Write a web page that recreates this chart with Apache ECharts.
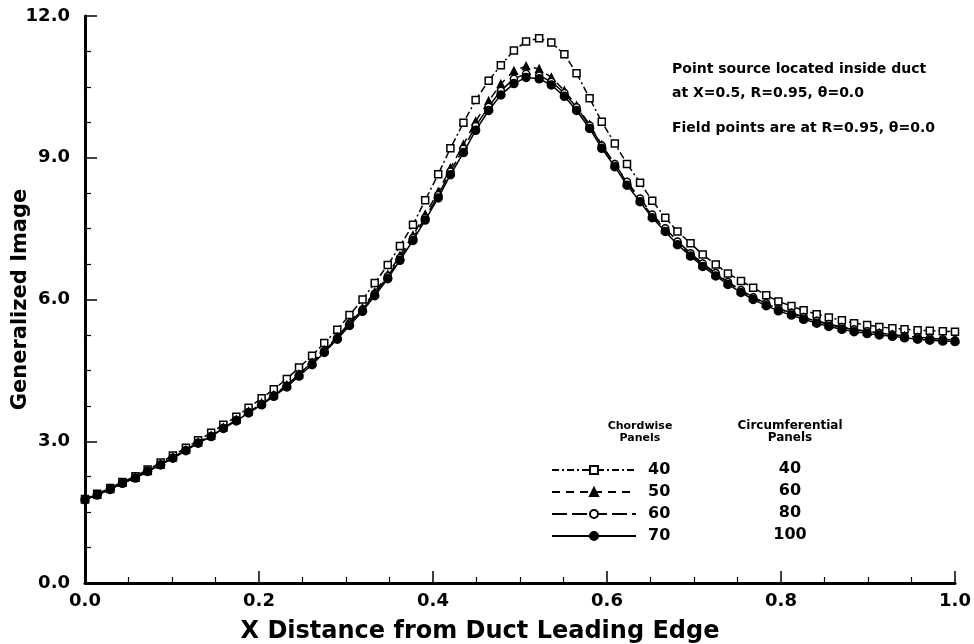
<!DOCTYPE html>
<html>
<head>
<meta charset="utf-8">
<script src="https://cdn.jsdelivr.net/npm/echarts@6/dist/echarts.min.js"></script>
<style>
html,body{margin:0;padding:0;background:#fff;}
#chart{width:974px;height:644px;}
</style>
</head>
<body>
<div id="chart"></div>
<script>
// Field point X locations (shared by all runs)
var xPoints = [0.000,0.014,0.029,0.043,0.058,0.072,0.087,0.101,0.116,0.130,
  0.145,0.159,0.174,0.188,0.203,0.217,0.232,0.246,0.261,0.275,
  0.290,0.304,0.319,0.333,0.348,0.362,0.377,0.391,0.406,0.420,
  0.435,0.449,0.464,0.478,0.493,0.507,0.522,0.536,0.551,0.565,
  0.580,0.594,0.609,0.623,0.638,0.652,0.667,0.681,0.696,0.710,
  0.725,0.739,0.754,0.768,0.783,0.797,0.812,0.826,0.841,0.855,
  0.870,0.884,0.899,0.913,0.928,0.942,0.957,0.971,0.986,1.000];

// 40 chordwise x 40 circumferential panels
var run40 = [1.78,1.89,2.01,2.14,2.26,2.40,2.55,2.70,2.86,3.02,
  3.18,3.35,3.52,3.71,3.91,4.10,4.32,4.56,4.81,5.08,
  5.36,5.67,6.00,6.35,6.73,7.13,7.58,8.10,8.65,9.20,
  9.74,10.22,10.63,10.96,11.27,11.46,11.53,11.44,11.19,10.79,
  10.26,9.76,9.30,8.87,8.47,8.09,7.73,7.44,7.19,6.95,
  6.74,6.55,6.39,6.25,6.09,5.96,5.86,5.77,5.69,5.62,
  5.56,5.50,5.46,5.42,5.39,5.37,5.35,5.34,5.33,5.32];

// 50 chordwise x 60 circumferential panels
var run50 = [1.77,1.87,1.99,2.12,2.23,2.37,2.51,2.66,2.82,2.98,
  3.12,3.29,3.46,3.63,3.81,3.98,4.19,4.42,4.67,4.93,
  5.21,5.51,5.82,6.16,6.53,6.93,7.36,7.80,8.28,8.78,
  9.28,9.77,10.20,10.56,10.84,10.94,10.88,10.70,10.42,10.10,
  9.70,9.27,8.86,8.47,8.11,7.77,7.48,7.20,6.96,6.74,
  6.54,6.36,6.19,6.04,5.91,5.80,5.71,5.62,5.54,5.47,
  5.41,5.36,5.32,5.29,5.26,5.23,5.20,5.18,5.16,5.15];

// 60 chordwise x 80 circumferential panels
var run60 = [1.77,1.87,1.99,2.12,2.23,2.37,2.51,2.65,2.81,2.97,
  3.11,3.28,3.45,3.62,3.79,3.97,4.17,4.40,4.65,4.91,
  5.19,5.49,5.79,6.12,6.49,6.88,7.30,7.73,8.21,8.71,
  9.19,9.67,10.08,10.42,10.67,10.78,10.74,10.61,10.37,10.07,
  9.68,9.26,8.87,8.49,8.14,7.80,7.51,7.23,6.98,6.76,
  6.56,6.37,6.20,6.05,5.92,5.81,5.72,5.63,5.55,5.48,
  5.42,5.37,5.33,5.29,5.26,5.23,5.20,5.18,5.16,5.14];

// 70 chordwise x 100 circumferential panels
var run70 = [1.76,1.86,1.98,2.11,2.22,2.36,2.50,2.64,2.80,2.96,
  3.10,3.27,3.43,3.60,3.77,3.95,4.15,4.38,4.62,4.88,
  5.16,5.45,5.75,6.08,6.44,6.83,7.25,7.68,8.15,8.64,
  9.11,9.58,10.00,10.33,10.57,10.70,10.67,10.54,10.30,10.00,
  9.62,9.20,8.81,8.42,8.07,7.73,7.44,7.16,6.92,6.70,
  6.50,6.32,6.15,6.00,5.87,5.76,5.67,5.58,5.50,5.43,
  5.37,5.32,5.28,5.25,5.22,5.19,5.16,5.14,5.12,5.11];

var chordwise = ['40','50','60','70'];
var circumferential = ['40','60','80','100'];
var annotation = ['Point source located inside duct', 'at X=0.5, R=0.95, \u03b8=0.0', 'Field points are at R=0.95, \u03b8=0.0'];
var xTitle = 'X Distance from Duct Leading Edge';
var yTitle = 'Generalized Image';

function pairs(ys){ return xPoints.map(function(x,i){ return [x, ys[i]]; }); }

var FONT = '"DejaVu Sans", "Liberation Sans", Arial, sans-serif';
var chart = echarts.init(document.getElementById('chart'));

var styles = [
  {data: run40, symbol: 'rect', size: 7, dash: [7,3,2,3], fill: '#fff'},
  {data: run50, symbol: 'triangle', size: 7, dash: [8,6], fill: '#000'},
  {data: run60, symbol: 'circle', size: 7, dash: [15,5], fill: '#fff'},
  {data: run70, symbol: 'circle', size: 8, dash: 'solid', fill: '#000'}
];

var series = styles.map(function(s, k){
  return {
    name: chordwise[k],
    type: 'line',
    data: pairs(s.data),
    symbol: s.symbol,
    symbolSize: s.size,
    showAllSymbol: true,
    animation: false,
    lineStyle: {color: '#000', width: 1.5, type: s.dash},
    itemStyle: {color: s.fill, borderColor: '#000', borderWidth: 1.5},
    z: 2 + k
  };
});

var graphics = [];
annotation.forEach(function(t, i){
  graphics.push({type:'text', x: 672, y: [69, 93, 128][i],
    style:{text: t, font: 'bold 14px ' + FONT, fill:'#000', textVerticalAlign:'middle'}});
});
graphics.push({type:'text', x: 640, y: 420, style:{text:'Chordwise\nPanels', font:'bold 11px ' + FONT, fill:'#000', textAlign:'center', lineHeight: 12}});
graphics.push({type:'text', x: 790, y: 420, style:{text:'Circumferential\nPanels', font:'bold 12px ' + FONT, fill:'#000', textAlign:'center', lineHeight: 12}});
circumferential.forEach(function(t, i){
  graphics.push({type:'text', x: 790, y: 469 + 22*i, style:{text: t, font:'bold 16px ' + FONT, fill:'#000', textAlign:'center', textVerticalAlign:'middle'}});
});

chart.setOption({
  backgroundColor: '#fff',
  animation: false,
  grid: {left: 85, right: 19, top: 16, bottom: 61, containLabel: false, outerBoundsMode: 'none'},
  xAxis: {
    type: 'value', min: 0, max: 1, interval: 0.2,
    name: xTitle, nameLocation: 'middle', nameGap: 37, nameMoveOverlap: false,
    nameTextStyle: {fontFamily: FONT, fontWeight: 'bold', fontSize: 24, color: '#000', padding: [0, 80, 0, 0]},
    axisLine: {lineStyle: {color: '#000', width: 3}},
    axisTick: {inside: true, length: 12, lineStyle: {color: '#000', width: 1.5}},
    minorTick: {show: true, splitNumber: 4, length: 6, lineStyle: {color: '#000', width: 1.2}},
    splitLine: {show: false},
    axisLabel: {fontFamily: FONT, fontWeight: 'bold', fontSize: 18, color: '#000', margin: 9,
      formatter: function(v){ return v.toFixed(1); }}
  },
  yAxis: {
    type: 'value', min: 0, max: 12, interval: 3,
    name: yTitle, nameLocation: 'middle', nameGap: 54, nameRotate: 90, nameMoveOverlap: false,
    nameTextStyle: {fontFamily: FONT, fontWeight: 'bold', fontSize: 21, color: '#000'},
    axisLine: {lineStyle: {color: '#000', width: 3}},
    axisTick: {inside: true, length: 12, lineStyle: {color: '#000', width: 1.5}},
    minorTick: {show: true, splitNumber: 4, length: 6, lineStyle: {color: '#000', width: 1.2}},
    splitLine: {show: false},
    axisLabel: {fontFamily: FONT, fontWeight: 'bold', fontSize: 18, color: '#000', margin: 15,
      formatter: function(v){ return v.toFixed(1); }}
  },
  legend: {
    data: chordwise, orient: 'vertical', left: 546, top: 457,
    itemWidth: 84, itemHeight: 10, itemGap: 6,
    selectedMode: false,
    textStyle: {fontFamily: FONT, fontWeight: 'bold', fontSize: 16, lineHeight: 16, color: '#000', padding: [0,0,0,7]}
  },
  graphic: graphics,
  series: series
});
</script>
</body>
</html>
